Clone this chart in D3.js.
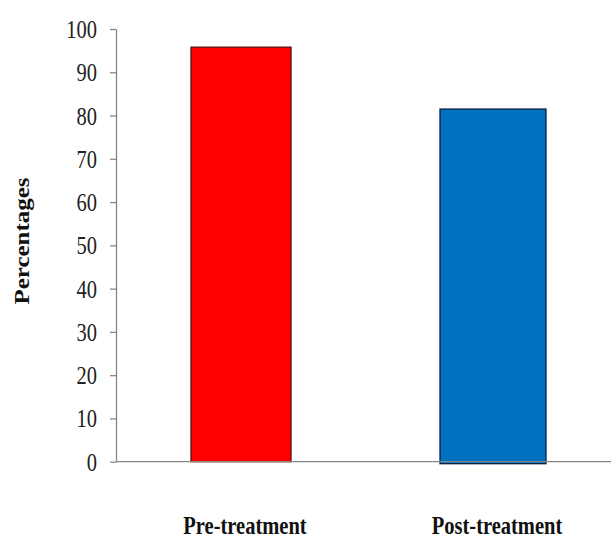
<!DOCTYPE html>
<html><head><meta charset="utf-8">
<script src="https://cdn.jsdelivr.net/npm/d3@7"></script>
<style>html,body{margin:0;padding:0;background:#fff;}</style>
</head><body>
<svg id="c" width="611" height="538"></svg>
<script>
const categories = ["Pre-treatment", "Post-treatment"];
const values = [95.8, 81.5];
const colors = ["#ff0000", "#0070c0"];
const strokes = ["#5a1010", "#0a2040"];
const yTicks = [0,10,20,30,40,50,60,70,80,90,100];

const svg = d3.select("#c");
const x0 = 116, x1 = 611, yTop = 29, yBot = 461.7;
const y = d3.scaleLinear().domain([0,100]).range([yBot, yTop]);
const barCenters = [241, 493];
const barWidths = [100, 106];
const SX = 0.82;

// bars
svg.selectAll("rect.bar").data(values).enter().append("rect")
  .attr("x", (d,i) => barCenters[i] - barWidths[i]/2)
  .attr("y", d => y(d))
  .attr("width", (d,i) => barWidths[i])
  .attr("height", (d,i) => yBot - y(d) + (i===1 ? 2 : 0))
  .attr("fill", (d,i) => colors[i])
  .attr("stroke", (d,i) => strokes[i])
  .attr("stroke-width", 1.3);

// y axis
const yAxis = d3.axisLeft(y).tickValues(yTicks).tickSize(6).tickPadding(9).tickSizeOuter(0);
const ga = svg.append("g").attr("transform", `translate(${x0},0)`).call(yAxis);
ga.select(".domain").attr("stroke", "#888").attr("stroke-width", 1.3);
ga.selectAll(".tick line").attr("stroke", "#888").attr("stroke-width", 1.3);
ga.selectAll(".tick text")
  .attr("font-family", "'Liberation Serif', 'Times New Roman', serif")
  .attr("font-size", 25)
  .attr("fill", "#222")
  .attr("transform", `scale(${SX},1)`)
  .attr("x", -19/SX)
  .attr("dy", "0.34em");

// x axis line
svg.append("line").attr("x1", x0).attr("x2", x1).attr("y1", yBot).attr("y2", yBot)
  .attr("stroke", "#888").attr("stroke-width", 1.3);

// category labels
const labelX = [245, 497];
svg.selectAll("text.cat").data(categories).enter().append("text")
  .attr("transform", (d,i) => `translate(${labelX[i]},534) scale(${SX},1)`)
  .attr("text-anchor", "middle")
  .attr("font-family", "'Liberation Serif', 'Times New Roman', serif")
  .attr("font-weight", "bold")
  .attr("font-size", 25)
  .attr("fill", "#111")
  .text(d => d);

// y label
svg.append("text")
  .attr("transform", `translate(29,241) scale(${0.88},1) rotate(-90)`)
  .attr("text-anchor", "middle")
  .attr("font-family", "'Liberation Serif', 'Times New Roman', serif")
  .attr("font-weight", "bold")
  .attr("font-size", 25)
  .attr("fill", "#111")
  .text("Percentages");
</script>
</body></html>
